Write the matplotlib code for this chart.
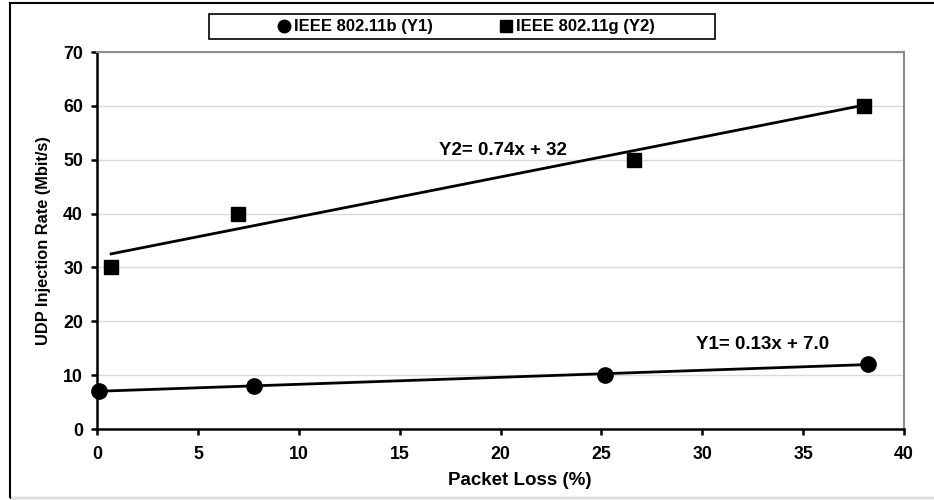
import numpy as np
import matplotlib
matplotlib.use('Agg')
import matplotlib.pyplot as plt
from matplotlib.patches import Rectangle
from matplotlib.lines import Line2D

plt.rcParams['font.family'] = 'Liberation Sans'
plt.rcParams['font.weight'] = 'bold'

# Measured points: packet loss (%) vs injection rate (Mbit/s)
loss_b = [0.1, 7.8, 25.2, 38.2]
rate_b = [7, 8, 10, 12]
loss_g = [0.7, 7.0, 26.6, 38.0]
rate_g = [30, 40, 50, 60]

# Linear fits shown on the chart (slope, intercept)
fit_b = [0.13, 7.0]
fit_g = [0.74, 32]

label_b = 'IEEE 802.11b (Y1)'
label_g = 'IEEE 802.11g (Y2)'
x_ticks = [0, 5, 10, 15, 20, 25, 30, 35, 40]
y_ticks = [0, 10, 20, 30, 40, 50, 60, 70]

fig = plt.figure(figsize=(9.34, 5.0), dpi=100)
ax = fig.add_axes([97/934, 1 - 429/500, (904 - 97)/934, (429 - 52)/500])

# outer frame around the whole figure (right side runs off the canvas)
fig.patches.append(Rectangle((10/934, 2/500), 1.0, 495/500, transform=fig.transFigure,
                             fill=False, edgecolor='black', linewidth=1.5, zorder=0))
fig.patches.append(Rectangle((11/934, 2/500), 1.0, 0, transform=fig.transFigure,
                             fill=False, edgecolor='#dddddd', linewidth=1.5, zorder=1))

ax.set_xlim(0, 40)
ax.set_ylim(0, 70)
ax.set_xticks(x_ticks)
ax.set_yticks(y_ticks)
ax.grid(axis='y', color='#d9d9d9', linewidth=1)
ax.set_axisbelow(True)

for side in ['left', 'bottom']:
    ax.spines[side].set_color('black')
    ax.spines[side].set_linewidth(1.8)
for side in ['top', 'right']:
    ax.spines[side].set_color('#8c8c8c')
    ax.spines[side].set_linewidth(1.5)

ax.tick_params(direction='out', length=4, width=1.8, labelsize=12.8)
ax.tick_params(axis='x', pad=8)
ax.tick_params(axis='y', pad=6)
for lab in ax.get_xticklabels() + ax.get_yticklabels():
    lab.set_fontweight('bold')

# trend lines
xb = np.array([min(loss_b), max(loss_b)])
xg = np.array([min(loss_g), max(loss_g)])
ax.plot(xb, fit_b[0] * xb + fit_b[1], color='black', linewidth=2, zorder=2)
ax.plot(xg, fit_g[0] * xg + fit_g[1], color='black', linewidth=2, zorder=2)

ax.plot(loss_b, rate_b, 'o', color='black', markersize=11, zorder=3, clip_on=False)
ax.plot(loss_g, rate_g, 's', color='black', markersize=10, zorder=3, clip_on=False)

ax.text(20.1, 51.8, f'Y2= {fit_g[0]:.2f}x + {fit_g[1]:.0f}', ha='center', va='center',
        fontsize=13.5, fontweight='bold')
ax.text(33.0, 15.6, f'Y1= {fit_b[0]:.2f}x + {fit_b[1]:.1f}', ha='center', va='center',
        fontsize=13.5, fontweight='bold')

ax.set_xlabel('Packet Loss (%)', fontsize=13.5, fontweight='bold')
ax.xaxis.set_label_coords((520 - 97) / 807, -0.115)
ax.set_ylabel('UDP Injection Rate (Mbit/s)', fontsize=11.8, fontweight='bold', labelpad=9)

# legend box across the top
fig.patches.append(Rectangle((209/934, 1 - 39/500), (715 - 209)/934, 25/500,
                             transform=fig.transFigure, fill=False,
                             edgecolor='black', linewidth=1.2))
handles = [Line2D([], [], marker='o', color='black', linestyle='none', markersize=9),
           Line2D([], [], marker='s', color='black', linestyle='none', markersize=8)]
fig.legend(handles, [label_b, label_g], loc='center', ncol=2, frameon=False,
           bbox_to_anchor=(467/934, 1 - 27/500), handlelength=0.6, handletextpad=0.3,
           columnspacing=4.1, prop={'size': 12, 'weight': 'bold'})

fig.savefig('out.png', dpi=100)
